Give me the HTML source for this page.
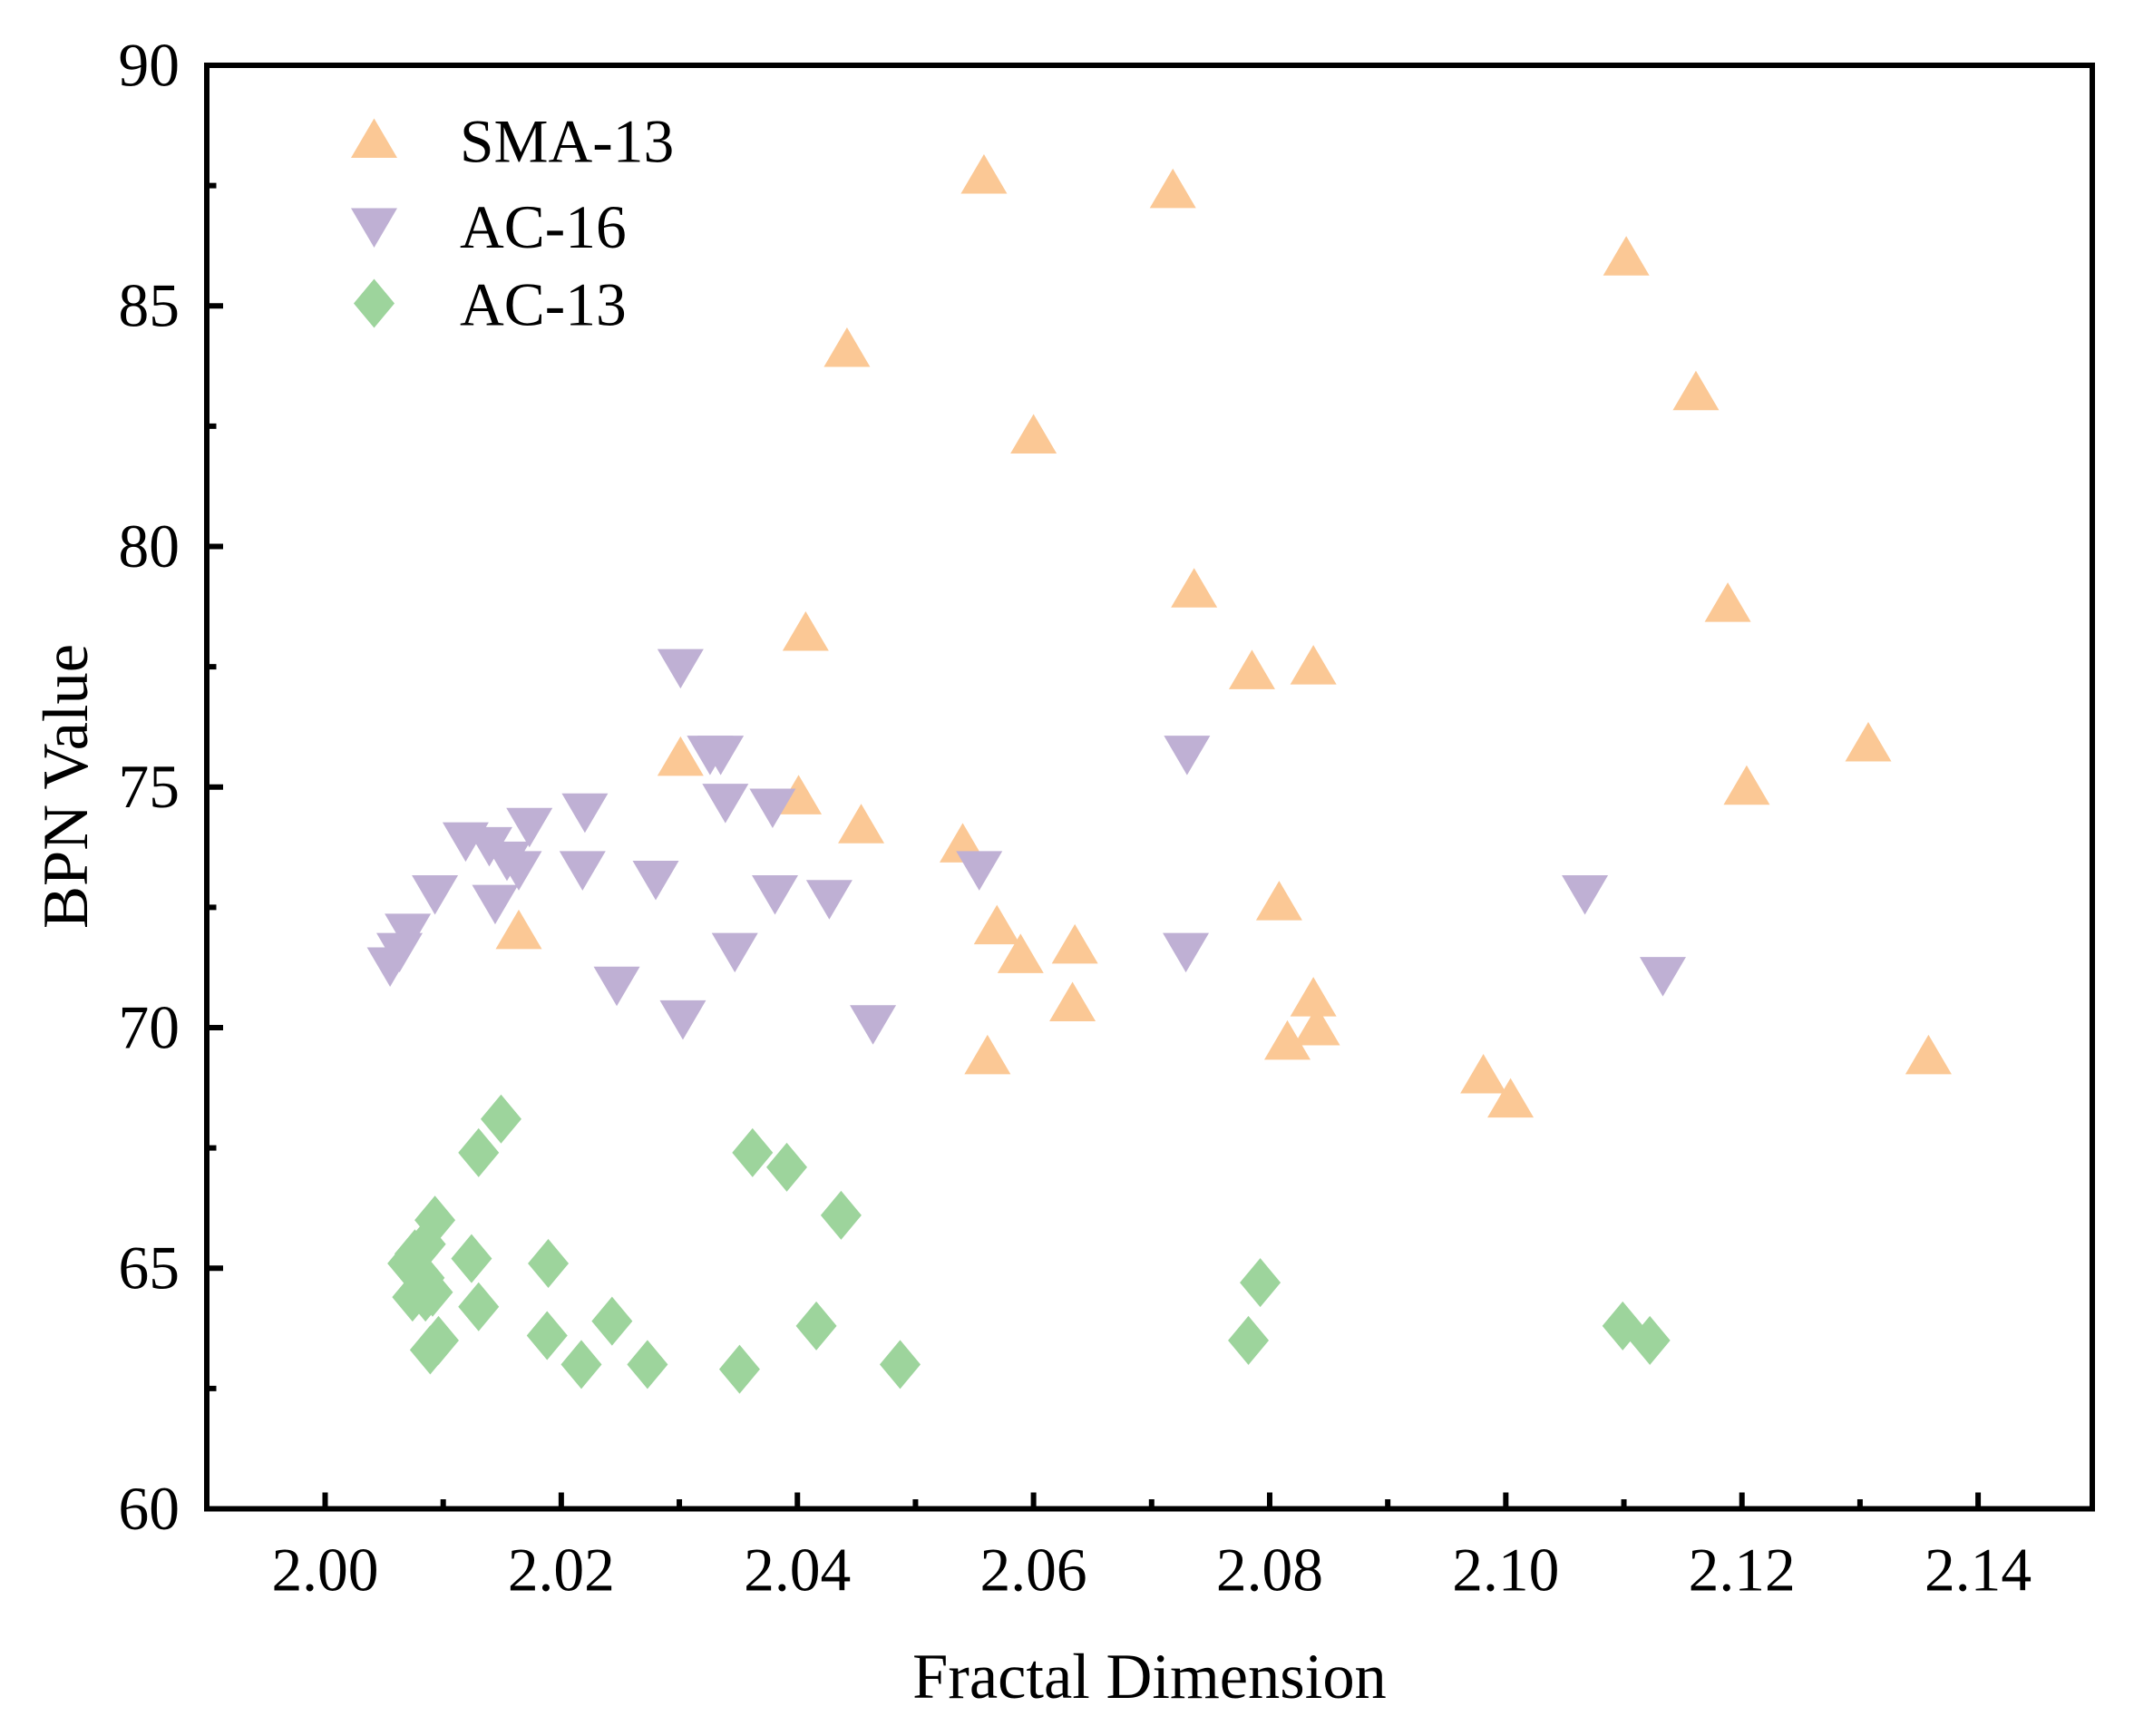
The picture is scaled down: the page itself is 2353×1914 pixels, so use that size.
<!DOCTYPE html>
<html><head><meta charset="utf-8"><style>
html,body{margin:0;padding:0;background:#fff;}
svg{display:block;}
text{font-family:"Liberation Serif",serif;fill:#000;}
</style></head><body>
<svg id="chart" width="2353" height="1914" viewBox="0 0 1568.67 1276" xmlns="http://www.w3.org/2000/svg">
<g id="grid"></g>
<g id="marks"></g>
<g id="axes"></g>
<g id="legend"></g>
</svg>
<script>
const xTicks=[2.00,2.02,2.04,2.06,2.08,2.10,2.12,2.14];
const xTickLabels=["2.00","2.02","2.04","2.06","2.08","2.10","2.12","2.14"];
const yTicks=[60,65,70,75,80,85,90];
const yTickLabels=["60","65","70","75","80","85","90"];
const smaX=[2.0558,2.0718,2.1102,2.0442,2.1161,2.0600,2.0736,2.1188,2.0407,2.0785,2.0837,2.0301,2.1307,2.0401,2.1204,2.0454,2.0540,2.0569,2.0164,2.0589,2.0635,2.0808,2.0837,2.0633,2.0815,2.0840,2.0561,2.0981,2.1004,2.1358];
const smaY=[87.7,87.4,86.0,84.1,83.2,82.3,79.1,78.8,78.2,77.4,77.5,75.6,75.9,74.8,75.0,74.2,73.8,72.1,72.0,71.5,71.7,72.6,70.6,70.5,69.7,70.0,69.4,69.0,68.5,69.4];
const ac16X=[2.0055,2.0063,2.0070,2.0093,2.0119,2.0139,2.0154,2.0164,2.0144,2.0173,2.0220,2.0218,2.0247,2.0280,2.0301,2.0303,2.0326,2.0335,2.0339,2.0347,2.0379,2.0381,2.0427,2.0464,2.0554,2.0730,2.0729,2.1067,2.1133];
const ac16Y=[71.3,71.6,72.0,72.8,73.9,73.8,73.5,73.3,72.6,74.2,74.5,73.3,70.9,73.1,77.5,70.2,75.7,75.7,74.7,71.6,74.6,72.8,72.7,70.1,73.3,75.7,71.6,72.8,71.1];
const ac13X=[2.0149,2.0130,2.0093,2.0085,2.0076,2.0070,2.0124,2.0189,2.0084,2.0074,2.0091,2.0130,2.0089,2.0096,2.0188,2.0243,2.0217,2.0273,2.0351,2.0362,2.0391,2.0437,2.0416,2.0487,2.0792,2.0782,2.1099,2.1122,2.0085];
const ac13Y=[68.1,67.4,66.0,65.5,65.3,65.1,65.2,65.1,64.8,64.4,64.5,64.2,63.3,63.5,63.6,63.9,63.0,63.0,62.9,67.4,67.1,66.1,63.8,63.0,64.7,63.5,63.8,63.5,64.4];

const NS="http://www.w3.org/2000/svg";
const L=152,R=1538,T=48,B=1109;
function sx(v){return 239+(v-2.0)*8679;}
function sy(v){return B-(v-60)*(B-T)/30;}
function mk(tag,attrs,parent){const e=document.createElementNS(NS,tag);for(const k in attrs)e.setAttribute(k,attrs[k]);parent.appendChild(e);return e;}
const marks=document.getElementById('marks'),axes=document.getElementById('axes'),legend=document.getElementById('legend');
function up(x,y){return `${x},${y-16} ${x+17},${y+13} ${x-17},${y+13}`;}
function down(x,y){return `${x-17},${y-13} ${x+17},${y-13} ${x},${y+16}`;}
function diamond(x,y){return `${x},${y-18} ${x+15},${y} ${x},${y+18} ${x-15},${y}`;}
smaX.forEach((v,i)=>{const p=mk('polygon',{points:up(sx(v),sy(smaY[i])),fill:'#FBC895'},marks);

});
ac16X.forEach((v,i)=>{const p=mk('polygon',{points:down(sx(v),sy(ac16Y[i])),fill:'#BFB0D4'},marks);

});
ac13X.forEach((v,i)=>{const p=mk('polygon',{points:diamond(sx(v),sy(ac13Y[i])),fill:'#9DD49C'},marks);

});
const fr=mk('rect',{x:L,y:T,width:R-L,height:B-T,fill:'none',stroke:'#000','stroke-width':4},axes);


xTicks.forEach((v,i)=>{const x=sx(v);mk('line',{x1:x,x2:x,y1:B,y2:B-12,stroke:'#000','stroke-width':4},axes);
const t=mk('text',{x:x,y:B+60,'text-anchor':'middle','font-size':45},axes);t.textContent=xTickLabels[i];


if(i<xTicks.length-1){const m=sx(v+0.01);mk('line',{x1:m,x2:m,y1:B,y2:B-7,stroke:'#000','stroke-width':4},axes);}
});
yTicks.forEach((v,i)=>{const y=sy(v);mk('line',{x1:L,x2:L+12,y1:y,y2:y,stroke:'#000','stroke-width':4},axes);
const t=mk('text',{x:L-20,y:y+15,'text-anchor':'end','font-size':45},axes);t.textContent=yTickLabels[i];


if(i<yTicks.length-1){const m=sy(v+2.5);mk('line',{x1:L,x2:L+7,y1:m,y2:m,stroke:'#000','stroke-width':4},axes);}
});
const xt=mk('text',{x:845,y:1248,'text-anchor':'middle','font-size':47},axes);xt.textContent='Fractal Dimension';


const yt=mk('text',{x:64,y:578,'text-anchor':'middle','font-size':47,transform:'rotate(-90 64 578)'},axes);yt.textContent='BPN Value';


const leg=[['SMA-13',up,'#FBC895',103],['AC-16',down,'#BFB0D4',166],['AC-13',diamond,'#9DD49C',223]];
leg.forEach(l=>{const g=mk('g',{},legend);


mk('polygon',{points:l[1](275,l[3]),fill:l[2]},g);
const t=mk('text',{x:338,y:l[3]+16,'font-size':45},g);t.textContent=l[0];});
</script>
</body></html>
